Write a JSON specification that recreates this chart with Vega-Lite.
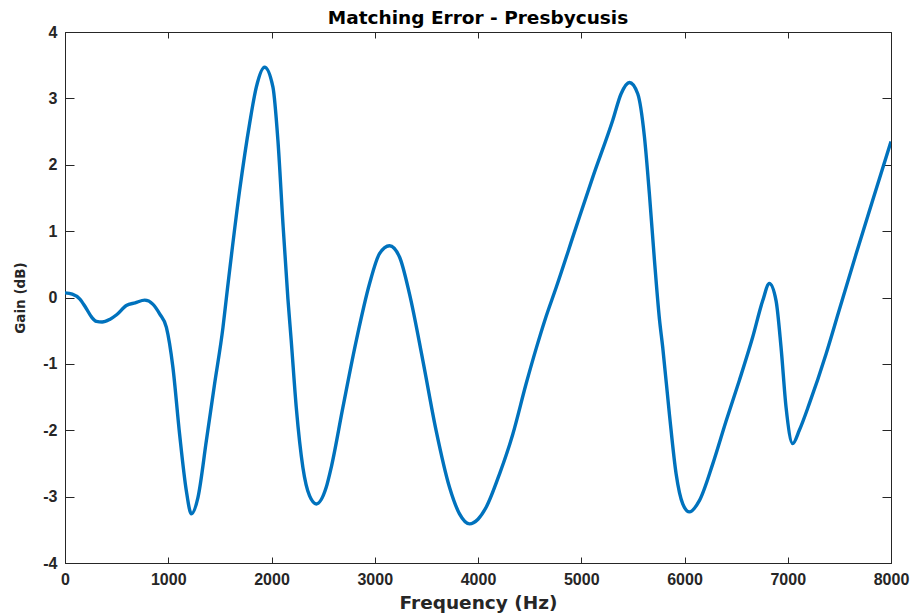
{
  "$schema": "https://vega.github.io/schema/vega-lite/v6.json",
  "autosize": "none",
  "padding": {"left": 65, "top": 32, "right": 25, "bottom": 52},
  "width": 826,
  "height": 531,
  "background": "white",
  "config": {
    "view": {"stroke": "#262626", "strokeWidth": 1},
    "font": "Liberation Sans",
    "axis": {"grid": false, "zindex": 1, "domainColor": "#262626", "tickColor": "#262626", "labelColor": "#262626", "titleColor": "#262626", "labelFont": "Liberation Sans", "titleFont": "Liberation Sans", "labelFontWeight": "bold", "titleFontWeight": "bold", "labelFontSize": 16, "titleFontSize": 15.5}
  },
  "title": {"text": "Matching Error - Presbycusis", "font": "DejaVu Sans", "fontSize": 18.5, "fontWeight": "bold", "color": "#000000", "offset": -3},
  "data": {"values": [
    {"f": 0, "g": 0.07}, {"f": 70, "g": 0.05}, {"f": 142, "g": -0.02}, {"f": 200, "g": -0.15}, {"f": 260, "g": -0.3}, {"f": 304, "g": -0.36}, {"f": 360, "g": -0.37}, {"f": 433, "g": -0.33},
    {"f": 500, "g": -0.26}, {"f": 594, "g": -0.12}, {"f": 680, "g": -0.08}, {"f": 772, "g": -0.04}, {"f": 850, "g": -0.1}, {"f": 918, "g": -0.25}, {"f": 982, "g": -0.45}, {"f": 1045, "g": -1.05},
    {"f": 1110, "g": -2.06}, {"f": 1175, "g": -2.91}, {"f": 1224, "g": -3.26}, {"f": 1288, "g": -3.01}, {"f": 1369, "g": -2.16}, {"f": 1449, "g": -1.3}, {"f": 1530, "g": -0.45}, {"f": 1562, "g": -0.02},
    {"f": 1691, "g": 1.61}, {"f": 1788, "g": 2.62}, {"f": 1853, "g": 3.17}, {"f": 1933, "g": 3.47}, {"f": 2014, "g": 3.17}, {"f": 2062, "g": 2.37}, {"f": 2111, "g": 1.11}, {"f": 2159, "g": -0.02},
    {"f": 2191, "g": -0.65}, {"f": 2240, "g": -1.66}, {"f": 2304, "g": -2.56}, {"f": 2369, "g": -2.99}, {"f": 2434, "g": -3.11}, {"f": 2530, "g": -2.86}, {"f": 2580, "g": -2.55}, {"f": 2691, "g": -1.66},
    {"f": 2821, "g": -0.65}, {"f": 2950, "g": 0.21}, {"f": 3046, "g": 0.66}, {"f": 3143, "g": 0.78}, {"f": 3240, "g": 0.61}, {"f": 3337, "g": 0.05}, {"f": 3466, "g": -0.95}, {"f": 3595, "g": -2.01},
    {"f": 3724, "g": -2.86}, {"f": 3821, "g": -3.26}, {"f": 3918, "g": -3.41}, {"f": 4000, "g": -3.34}, {"f": 4079, "g": -3.16}, {"f": 4208, "g": -2.66}, {"f": 4337, "g": -2.06}, {"f": 4466, "g": -1.3},
    {"f": 4563, "g": -0.77}, {"f": 4650, "g": -0.33}, {"f": 4757, "g": 0.15}, {"f": 4950, "g": 1.06}, {"f": 5111, "g": 1.81}, {"f": 5305, "g": 2.67}, {"f": 5386, "g": 3.07}, {"f": 5467, "g": 3.24},
    {"f": 5547, "g": 3.07}, {"f": 5612, "g": 2.42}, {"f": 5660, "g": 1.56}, {"f": 5709, "g": 0.56}, {"f": 5757, "g": -0.32}, {"f": 5789, "g": -0.75}, {"f": 5854, "g": -1.76}, {"f": 5919, "g": -2.66},
    {"f": 5983, "g": -3.11}, {"f": 6047, "g": -3.23}, {"f": 6144, "g": -3.06}, {"f": 6273, "g": -2.51}, {"f": 6403, "g": -1.86}, {"f": 6531, "g": -1.25}, {"f": 6660, "g": -0.6}, {"f": 6757, "g": -0.05},
    {"f": 6822, "g": 0.21}, {"f": 6887, "g": -0.05}, {"f": 6935, "g": -0.75}, {"f": 6984, "g": -1.66}, {"f": 7048, "g": -2.2}, {"f": 7112, "g": -2.0}, {"f": 7209, "g": -1.6}, {"f": 7371, "g": -0.85},
    {"f": 7500, "g": -0.18}, {"f": 7661, "g": 0.65}, {"f": 7822, "g": 1.46}, {"f": 8000, "g": 2.35}
  ]},
  "layer": [
    {
      "mark": {"type": "line", "color": "#0072BD", "strokeWidth": 3.4, "interpolate": "monotone", "clip": true},
      "encoding": {
        "x": {"field": "f", "type": "quantitative", "scale": {"domain": [0, 8000], "nice": false, "zero": false},
          "axis": {"orient": "bottom", "title": "Frequency (Hz)", "titleFont": "DejaVu Sans", "titleFontSize": 18.5, "values": [0, 1000, 2000, 3000, 4000, 5000, 6000, 7000, 8000], "labelExpr": "toString(datum.value)", "tickSize": -6, "labelPadding": 14, "titlePadding": 6, "labelFlush": false}},
        "y": {"field": "g", "type": "quantitative", "scale": {"domain": [-4, 4], "nice": false, "zero": false},
          "axis": {"orient": "left", "title": "Gain (dB)", "titleFont": "DejaVu Sans", "titleFontSize": 13.5, "values": [-4, -3, -2, -1, 0, 1, 2, 3, 4], "labelExpr": "toString(datum.value)", "tickSize": -9, "labelPadding": 17, "titlePadding": 15, "labelFlush": false}}
      }
    },
    {
      "mark": {"type": "line", "strokeOpacity": 0, "clip": true},
      "encoding": {
        "x": {"field": "f", "type": "quantitative", "scale": {"domain": [0, 8000], "nice": false, "zero": false},
          "axis": {"orient": "top", "title": null, "labels": false, "domain": false, "values": [0, 1000, 2000, 3000, 4000, 5000, 6000, 7000, 8000], "tickSize": -6}},
        "y": {"field": "g", "type": "quantitative", "scale": {"domain": [-4, 4], "nice": false, "zero": false},
          "axis": {"orient": "right", "title": null, "labels": false, "domain": false, "values": [-4, -3, -2, -1, 0, 1, 2, 3, 4], "tickSize": -9}}
      }
    }
  ],
  "resolve": {"axis": {"x": "independent", "y": "independent"}}
}
